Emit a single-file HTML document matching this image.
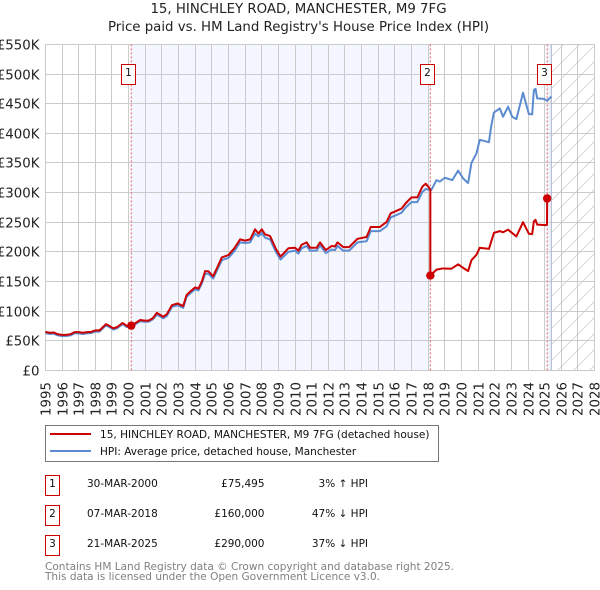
<!DOCTYPE html>
<html lang="en">
<head>
<meta charset="utf-8">
<title>15, Hinchley Road price chart</title>
<style>
html,body{margin:0;padding:0;background:#fff;}
body{width:600px;height:590px;overflow:hidden;position:relative;font-family:"DejaVu Sans","Liberation Sans",sans-serif;}
svg{position:absolute;left:0;top:0;}
text{font-family:"DejaVu Sans","Liberation Sans",sans-serif;}
</style>
</head>
<body>
<svg id="chart" width="600" height="590" viewBox="0 0 600 590" xmlns="http://www.w3.org/2000/svg">
<defs>
<pattern id="hatch" width="16" height="16" patternUnits="userSpaceOnUse">
<path d="M-2 18 L18 -2 M-2 2 L2 -2 M14 18 L18 14" stroke="#d0d0d0" stroke-width="0.8" fill="none"/>
</pattern>
</defs>
<text x="298.5" y="13" font-size="13.33" text-anchor="middle" fill="#222">15, HINCHLEY ROAD, MANCHESTER, M9 7FG</text>
<text x="298.5" y="31" font-size="13.33" text-anchor="middle" fill="#222">Price paid vs. HM Land Registry's House Price Index (HPI)</text>
<g id="plot"></g>
<g>
<rect x="45.5" y="425.5" width="393" height="36" fill="#fff" stroke="#777"/>
<line x1="50" x2="91" y1="434" y2="434" stroke="#cc0000" stroke-width="2"/>
<text x="100" y="438" font-size="10.52" fill="#111">15, HINCHLEY ROAD, MANCHESTER, M9 7FG (detached house)</text>
<line x1="50" x2="91" y1="451" y2="451" stroke="#5b8bd0" stroke-width="2"/>
<text x="100" y="455" font-size="10.52" fill="#111">HPI: Average price, detached house, Manchester</text>
</g>
<g font-size="10.5" fill="#111">
<rect x="45.5" y="475.5" width="14" height="20" fill="#fff" stroke="#cc0000"/>
<text x="52.5" y="487" text-anchor="middle">1</text>
<text x="87" y="487">30-MAR-2000</text>
<text x="264.5" y="487" text-anchor="end">£75,495</text>
<text x="368" y="487" text-anchor="end">3% ↑ HPI</text>
<rect x="45.5" y="505.5" width="14" height="20" fill="#fff" stroke="#cc0000"/>
<text x="52.5" y="517" text-anchor="middle">2</text>
<text x="87" y="517">07-MAR-2018</text>
<text x="264.5" y="517" text-anchor="end">£160,000</text>
<text x="368" y="517" text-anchor="end">47% ↓ HPI</text>
<rect x="45.5" y="535.5" width="14" height="20" fill="#fff" stroke="#cc0000"/>
<text x="52.5" y="547" text-anchor="middle">3</text>
<text x="87" y="547">21-MAR-2025</text>
<text x="264.5" y="547" text-anchor="end">£290,000</text>
<text x="368" y="547" text-anchor="end">37% ↓ HPI</text>
</g>
<text x="45" y="570" font-size="10.52" fill="#808080">Contains HM Land Registry data © Crown copyright and database right 2025.</text>
<text x="45" y="580" font-size="10.52" fill="#808080">This data is licensed under the Open Government Licence v3.0.</text>
</svg>
<script>
const yearLabels = ["1995","1996","1997","1998","1999","2000","2001","2002","2003","2004","2005","2006","2007","2008","2009","2010","2011","2012","2013","2014","2015","2016","2017","2018","2019","2020","2021","2022","2023","2024","2025","2026","2027","2028"];
const priceTicks = [0,50,100,150,200,250,300,350,400,450,500,550];
const priceTickLabels = ["£0","£50K","£100K","£150K","£200K","£250K","£300K","£350K","£400K","£450K","£500K","£550K"];
const saleDates = [2000.16,2018.13,2025.15];
const salePrices = [75.495,160,290];
const saleNumbers = ["1","2","3"];
const priceDates = [1995,1995.25,1995.5,1995.75,1996,1996.25,1996.5,1996.75,1997,1997.25,1997.5,1997.75,1998,1998.25,1998.64,1998.85,1999.08,1999.3,1999.64,1999.9,2000.16,2000.7,2000.95,2001.2,2001.45,2001.7,2002.08,2002.3,2002.6,2002.94,2003.28,2003.48,2003.7,2004,2004.2,2004.4,2004.6,2004.8,2005.08,2005.3,2005.6,2006,2006.35,2006.7,2007,2007.3,2007.6,2007.8,2008,2008.2,2008.5,2008.85,2009.13,2009.6,2010,2010.2,2010.4,2010.7,2010.9,2011.3,2011.5,2011.85,2012.2,2012.4,2012.55,2012.9,2013.25,2013.75,2014.3,2014.55,2015.1,2015.5,2015.75,2016,2016.4,2016.65,2017,2017.35,2017.65,2017.85,2018,2018.13,2018.13,2018.5,2018.88,2019.4,2019.8,2020.1,2020.4,2020.6,2020.9,2021.1,2021.65,2021.95,2022.3,2022.5,2022.8,2023.3,2023.7,2024.05,2024.25,2024.35,2024.45,2024.55,2025.08,2025.14,2025.15];
const priceValues = [65,63.5,64,61,60,60,61,64.5,64.5,63.5,64.5,65,67.5,67.5,78,75,71,73,80,75,75.5,85,84,84,88,97,90.5,95,110,113,108.5,127,133,140,138,150,167.6,167,159,172,190.6,194.6,206,221,219,221,238,231,238,229.5,226.6,205,192,206,207,202,212,216,207,207,216,203,210,209,216,208,208,222,225,242,242,250.5,265,268,273,282,292,292,310,315,310,305,160,170,172,171.6,179,173,167.6,186,195,207,205,232,235,233,237.5,226,250,230.6,230,251.6,254,246,245,246,290];
const hpiDates = [1995,1995.25,1995.5,1995.75,1996,1996.25,1996.5,1996.75,1997,1997.25,1997.5,1997.75,1998,1998.25,1998.64,1998.85,1999.08,1999.3,1999.64,1999.9,2000.16,2000.7,2000.95,2001.2,2001.45,2001.7,2002.08,2002.3,2002.6,2002.94,2003.28,2003.48,2003.7,2004,2004.2,2004.4,2004.6,2004.8,2005.08,2005.3,2005.6,2006,2006.35,2006.7,2007,2007.3,2007.6,2007.8,2008,2008.2,2008.5,2008.85,2009.13,2009.6,2010,2010.2,2010.4,2010.7,2010.9,2011.3,2011.5,2011.85,2012.2,2012.4,2012.55,2012.9,2013.25,2013.75,2014.3,2014.55,2015.1,2015.5,2015.75,2016,2016.4,2016.65,2017,2017.35,2017.65,2017.85,2018.18,2018.5,2018.7,2019,2019.45,2019.8,2020.1,2020.4,2020.6,2020.9,2021.1,2021.65,2021.8,2021.95,2022.3,2022.5,2022.8,2023.05,2023.3,2023.7,2024.05,2024.25,2024.35,2024.45,2024.55,2024.95,2025.15,2025.4];
const hpiValues = [63,61.5,62,59,58,58,59,62.5,62.5,61.5,62.5,63,65.5,65.5,76,73,69,71,78,73,73.5,83,82,82,86,94,88,92,107,110,105.5,124,130,137,135,147,163,163,155,168,186,190,201,216,215,216,231,226,232,224,221,200,187,200,202,197,206,210,202,202,211,198,204,203,210,202,202,216,218,235,235,243,258,261,266,275,284,284,301,306,304,321,318.5,325,321,337,324,316,350,366,389,385,414,435,442,428,445,428,424,468.5,432.6,432,473,475,459,458,455,462];

const NS = "http://www.w3.org/2000/svg";
const plot = document.getElementById("plot");
const X_LEFT = 45.4, X_RIGHT = 594.6, Y_ZERO = 370.4, Y_TOP = 44.4;
const xDomain = [Number(yearLabels[0]), Number(yearLabels[yearLabels.length - 1])];
const yMax = priceTicks[priceTicks.length - 1];
function xScale(year) { return X_LEFT + (year - xDomain[0]) * (X_RIGHT - X_LEFT) / (xDomain[1] - xDomain[0]); }
function yScale(value) { return Y_ZERO - value * (Y_ZERO - Y_TOP) / yMax; }
function make(tag, attrs, parent) {
  const el = document.createElementNS(NS, tag);
  for (const k in attrs) el.setAttribute(k, attrs[k]);
  (parent || plot).appendChild(el);
  return el;
}
function pathFrom(dates, values) {
  return dates.map(function (d, i) { return (i ? "L" : "M") + xScale(d).toFixed(2) + " " + yScale(values[i]).toFixed(2); }).join(" ");
}

const shade1 = make("rect", {x: xScale(saleDates[0]), y: Y_TOP, width: xScale(saleDates[1]) - xScale(saleDates[0]), height: Y_ZERO - Y_TOP, fill: "#f4f7ff"});


const hpiEnd = hpiDates[hpiDates.length - 1];
const shade2 = make("rect", {x: xScale(saleDates[2]), y: Y_TOP, width: xScale(hpiEnd) - xScale(saleDates[2]), height: Y_ZERO - Y_TOP, fill: "#f0f4fd"});


const hatch = make("rect", {x: xScale(hpiEnd), y: Y_TOP, width: X_RIGHT - xScale(hpiEnd), height: Y_ZERO - Y_TOP, fill: "url(#hatch)"});



priceTicks.forEach(function (t, i) {
  const y = Math.round(yScale(t) - 0.5) + 0.5;
  const line = make("line", {x1: X_LEFT, x2: X_RIGHT, y1: y, y2: y, stroke: "#cbcbcb", "stroke-width": 1});
  
  
  const label = make("text", {x: 39.5, y: y + 5, "text-anchor": "end", "font-size": 13.33, fill: "#222"});
  
  
  label.textContent = priceTickLabels[i];
});
yearLabels.forEach(function (yr) {
  const x = Math.round(xScale(Number(yr)) - 0.5) + 0.5;
  const line = make("line", {x1: x, x2: x, y1: Y_TOP, y2: Y_ZERO, stroke: "#cbcbcb", "stroke-width": 1});
  
  
  const label = make("text", {transform: "translate(" + (x + 5) + ",416) rotate(-90)", "font-size": 13.33, fill: "#222"});
  
  
  label.textContent = yr;
});

saleDates.forEach(function (d) {
  const x = xScale(d);
  const line = make("line", {x1: x, x2: x, y1: Y_TOP, y2: Y_ZERO, stroke: "#e8606e", "stroke-width": 1, "stroke-dasharray": "2 2"});
  
  
});
const endLine = make("line", {x1: xScale(hpiEnd), x2: xScale(hpiEnd), y1: Y_TOP, y2: Y_ZERO, stroke: "#aab4c8", "stroke-width": 1});



const hpiLine = make("path", {d: pathFrom(hpiDates, hpiValues), fill: "none", stroke: "#5b8bd0", "stroke-width": 2, "stroke-linejoin": "round"});


const priceLine = make("path", {d: pathFrom(priceDates, priceValues), fill: "none", stroke: "#cc0000", "stroke-width": 2, "stroke-linejoin": "round"});



saleDates.forEach(function (d, i) {
  const dot = make("circle", {cx: xScale(d), cy: yScale(salePrices[i]), r: 4.2, fill: "#cc0000"});
  
  
  const boxX = Math.round(xScale(d) - 10.3) + 0.5;
  const box = make("rect", {x: boxX, y: 64.5, width: 14, height: 20, fill: "#fff", stroke: "#cc0000", "stroke-width": 1});
  
  
  const num = make("text", {x: boxX + 7, y: 76, "text-anchor": "middle", "font-size": 10.5, fill: "#111"});
  
  
  num.textContent = saleNumbers[i];
});
</script>
</body>
</html>
